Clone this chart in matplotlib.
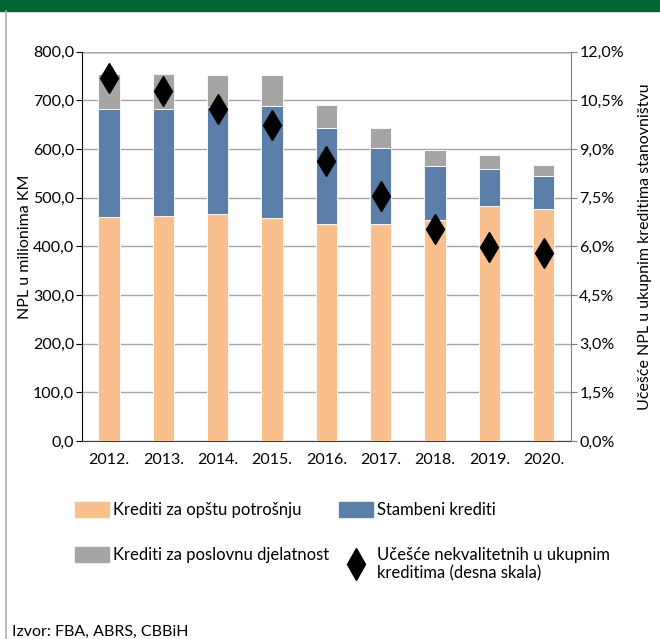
import matplotlib
matplotlib.use("Agg")
import matplotlib.pyplot as plt
from matplotlib.patches import Patch, Rectangle
from matplotlib.lines import Line2D
from matplotlib.ticker import FuncFormatter, MultipleLocator

plt.rcParams["font.family"] = ["Lato", "DejaVu Sans"]

years = ["2012.", "2013.", "2014.", "2015.", "2016.", "2017.", "2018.", "2019.", "2020."]
potrosnja = [461, 463, 466, 459, 446, 445, 455, 483, 477]
stambeni = [222, 219, 221, 230, 197, 158, 111, 77, 67]
poslovna = [72, 73, 65, 63, 47, 40, 33, 28, 23]
ucesce = [11.19, 10.80, 10.23, 9.74, 8.62, 7.54, 6.54, 5.98, 5.79]

c_orange = "#F9C08E"
c_blue = "#5B7FA8"
c_gray = "#A5A5A5"
fs = 11.5

fig = plt.figure(figsize=(6.6, 6.39), dpi=100)
ax = fig.add_axes([0.124, 0.310, 0.741, 0.609])

# header band and frame line
fig.patches.append(Rectangle((0, 0.983), 1, 0.017, transform=fig.transFigure,
                             color="#006633", zorder=0))
fig.add_artist(Line2D([0.009, 0.009], [0, 0.983], transform=fig.transFigure,
                      color="#b0b0b0", lw=1.2))

x = list(range(len(years)))
w = 0.39
bottom2 = [a + b for a, b in zip(potrosnja, stambeni)]
ax.bar(x, potrosnja, w, color=c_orange, edgecolor="white", linewidth=0.6, zorder=3)
ax.bar(x, stambeni, w, bottom=potrosnja, color=c_blue, edgecolor="white", linewidth=0.6, zorder=3)
ax.bar(x, poslovna, w, bottom=bottom2, color=c_gray, edgecolor="white", linewidth=0.6, zorder=3)

ax.set_ylim(0, 800)
ax.set_xlim(-0.5, len(years) - 0.5)
ax.yaxis.set_major_locator(MultipleLocator(100))
ax.yaxis.set_major_formatter(FuncFormatter(lambda v, p: f"{v:.1f}".replace(".", ",")))
ax.grid(axis="y", color="#a6a6a6", lw=1.0, zorder=0)
ax.set_xticks(x)
ax.set_xticklabels(years)
ax.tick_params(axis="x", length=0, pad=9, labelsize=fs)
ax.tick_params(axis="y", length=4, width=0.8, labelsize=fs, colors="black", pad=1.5)
for s in ["top", "right"]:
    ax.spines[s].set_visible(False)
ax.spines["left"].set_color("black")
ax.spines["bottom"].set_color("#404040")
ax.set_ylabel("NPL u milionima KM", fontsize=fs, labelpad=1)
ax.axhline(800, color="#303030", lw=1.0, zorder=1)

ax2 = ax.twinx()
ax2.plot(x, ucesce, linestyle="none", marker="d", markersize=15.5, color="black", zorder=5)
ax2.set_ylim(0, 12)
ax2.yaxis.set_major_locator(MultipleLocator(1.5))
ax2.yaxis.set_major_formatter(FuncFormatter(lambda v, p: f"{v:.1f}%".replace(".", ",")))
ax2.tick_params(axis="y", length=4, width=0.8, labelsize=fs, color="#808080", pad=2)
for s in ["top", "left", "bottom"]:
    ax2.spines[s].set_visible(False)
ax2.spines["right"].set_color("#808080")
ax2.set_ylabel("Učešće NPL u ukupnim kreditima stanovništvu", fontsize=fs, labelpad=10)

handles = [
    Patch(color=c_orange, label="Krediti za opštu potrošnju"),
    Patch(color=c_gray, label="Krediti za poslovnu djelatnost"),
    Patch(color=c_blue, label="Stambeni krediti"),
    Line2D([], [], linestyle="none", marker="d", markersize=16, color="black",
           label="Učešće nekvalitetnih u ukupnim\nkreditima (desna skala)"),
]
fig.legend(handles=handles, ncol=2, loc="upper left", bbox_to_anchor=(0.108, 0.22),
           frameon=False, fontsize=12, handlelength=2.05, handleheight=1.0,
           columnspacing=0.6, labelspacing=1.75, handletextpad=0.25,
           borderpad=0.2, borderaxespad=0)

fig.text(0.018, 0.0, "Izvor: FBA, ABRS, CBBiH", fontsize=fs, va="bottom")

fig.savefig("out.png", dpi=100)
